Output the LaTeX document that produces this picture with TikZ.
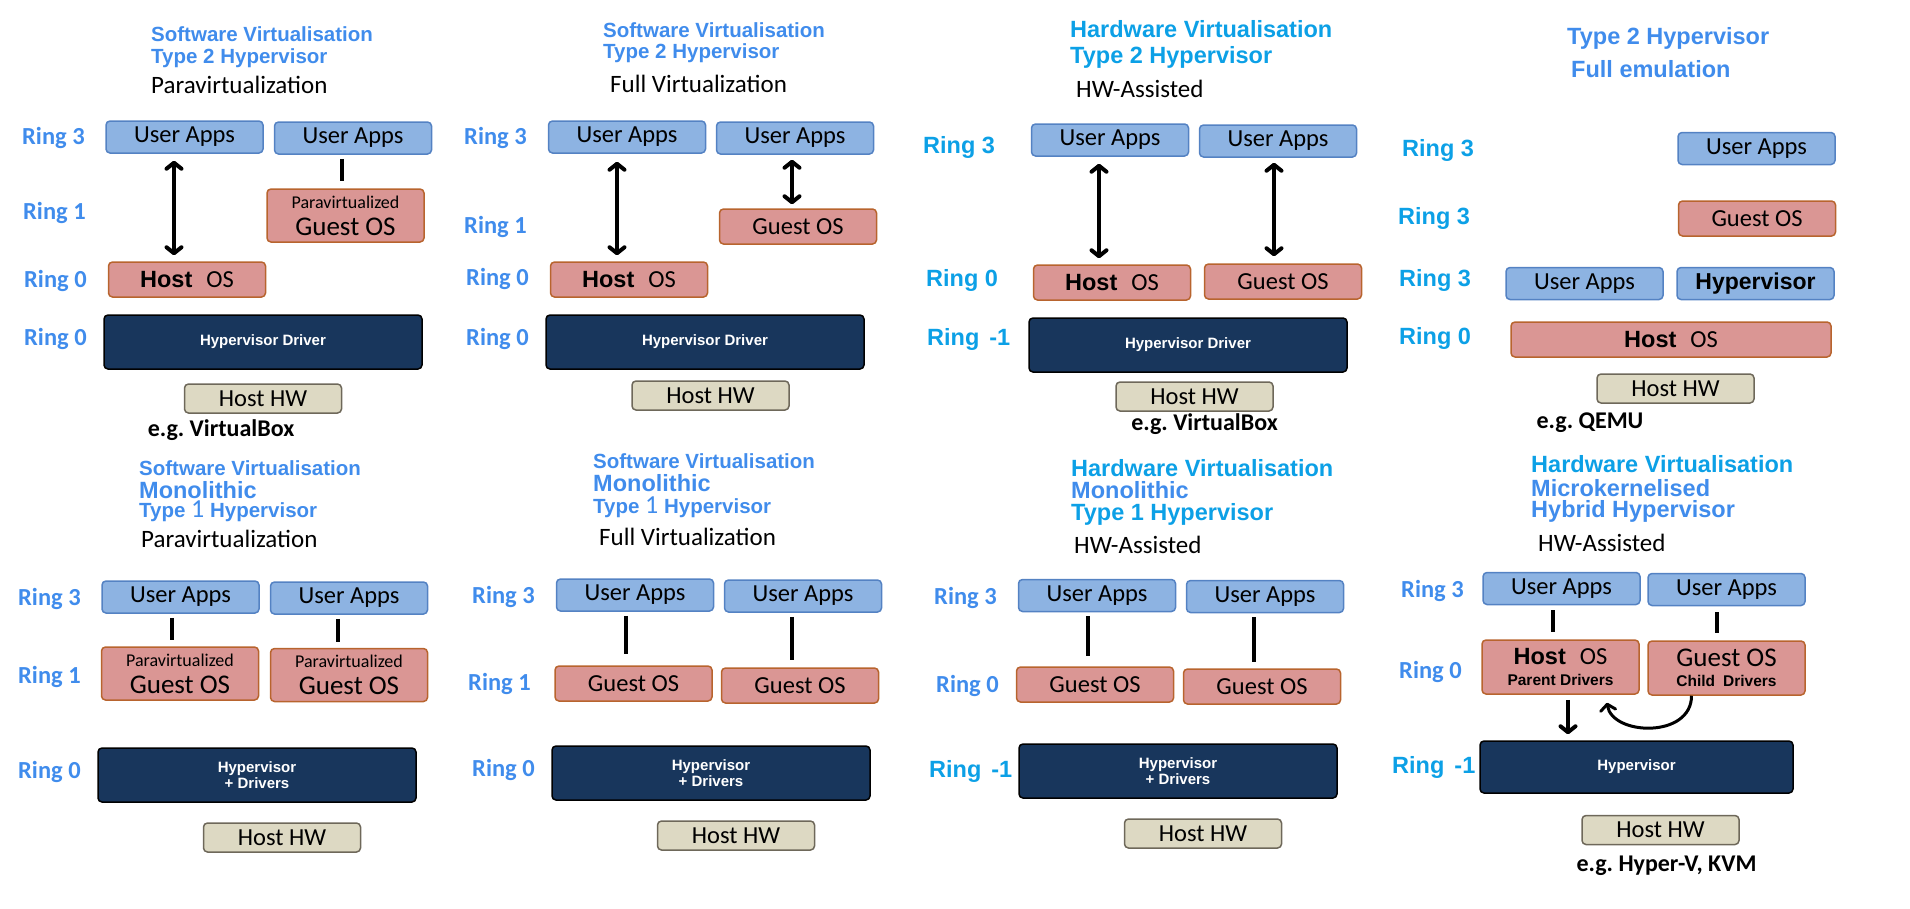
\documentclass[tikz,border=0pt]{standalone}
\usepackage{fontspec}
\setmainfont{Carlito}
\newfontfamily\arialf{Liberation Sans}
\usetikzlibrary{arrows.meta}
\definecolor{swblue}{RGB}{64,140,236}
\definecolor{hwblue}{RGB}{12,160,230}
\definecolor{appfill}{RGB}{141,179,226}
\definecolor{appdraw}{RGB}{84,130,195}
\definecolor{osfill}{RGB}{218,150,148}
\definecolor{osdraw}{RGB}{184,100,46}
\definecolor{hypfill}{RGB}{24,54,92}
\definecolor{hwfill}{RGB}{221,217,195}
\definecolor{hwdraw}{RGB}{110,104,90}
\tikzset{
  barb/.tip     = {Straight Barb[length=6pt,width=15pt,line cap=round,line join=round]},
  ring/.style   = {anchor=west, inner sep=0pt, text=swblue,
                   font=\bfseries\fontsize{24.5}{26}\selectfont},
  ringhw/.style = {anchor=west, inner sep=0pt, text=hwblue,
                   font=\arialf\bfseries\fontsize{23.5}{26}\selectfont},
  ttl/.style    = {anchor=west, inner sep=0pt, text=swblue,
                   font=\arialf\bfseries\fontsize{20.5}{22}\selectfont},
  ttlbig/.style = {ttl, font=\arialf\bfseries\fontsize{23.5}{25}\selectfont},
  ttlhw/.style  = {ttlbig, text=hwblue},
  sub/.style    = {anchor=west, inner sep=0pt, font=\fontsize{25}{26}\selectfont},
  eg/.style     = {inner sep=0pt, font=\bfseries\fontsize{24}{26}\selectfont},
  box/.style    = {rounded corners=4pt, line width=1.5pt, inner sep=0pt,
                   minimum width=157pt, align=center, font=\fontsize{24.5}{26}\selectfont},
  apps/.style   = {box, draw=appdraw, fill=appfill, minimum height=32pt},
  osbox/.style  = {box, draw=osdraw, fill=osfill, minimum height=35pt},
  osdbl/.style  = {osbox, minimum height=53pt},
  hyp/.style    = {box, draw=black, fill=hypfill, minimum width=318pt,
                   minimum height=54pt, text=white,
                   font=\arialf\bfseries\fontsize{15}{16}\selectfont},
  hostw/.style  = {box, draw=hwdraw, fill=hwfill, minimum height=29pt},
  link/.style   = {line width=4pt},
  updown/.style = {barb-barb, line width=4pt},
}
\newcommand{\hostos}{{\arialf\bfseries\fontsize{23.5}{26}\selectfont Host}\hspace{14pt}OS}
\newcommand{\pv}{{\fontsize{18}{20}\selectfont Paravirtualized}}
\newcommand{\bigos}{{\fontsize{27}{28}\selectfont Guest OS}}
\newcommand{\drv}[1]{{\arialf\bfseries\fontsize{15.5}{16}\selectfont #1}}
\newcommand{\one}{{\normalfont\fontsize{26}{26}\selectfont 1}}

\begin{document}
\begin{tikzpicture}[x=1pt, y=-1pt]
  \useasboundingbox (0,0) rectangle (1910,908);

  % software, type 2, paravirtualization
  \node[ttl] (t1a) at (151,34) {Software Virtualisation};
  \node[ttl] (t1b) at (151,58) {Type 2 Hypervisor};
  \node[sub] (t1c) at (151,85) {Paravirtualization};
  \node[ring] (r1a) at (22,138) {Ring 3};
  \node[ring] (r1b) at (23,213) {Ring 1};
  \node[ring] (r1c) at (24,281) {Ring 0};
  \node[ring] (r1d) at (24,339) {Ring 0};
  \node[apps]  (ua1a) at (184.5,137) {User Apps};
  \node[apps]  (ua1b) at (353,138) {User Apps};
  \node[osdbl] (os1b) at (345.5,215.5) {\pv\\[1pt]\bigos};
  \node[osbox] (os1a) at (187,279.5) {\hostos};
  \node[hyp]   (hv1) at (263,342) {Hypervisor Driver};
  \node[hostw] (hw1) at (263,398.5) {Host HW};
  \node[eg]    (eg1) at (221,430) {e.g.\ VirtualBox};
  \draw[updown, shorten <=7pt, shorten >=6pt] ([xshift=-10.5pt]ua1a.south) -- ([xshift=-10.5pt]ua1a.south |- os1a.north);
  \draw[link, shorten <=4pt, shorten >=7pt] ([xshift=-11pt]ua1b.south) -- ([xshift=-11pt]ua1b.south |- os1b.north);

  % software, type 2, full virtualization
  \node[ttl] (t2a) at (603,30) {Software Virtualisation};
  \node[ttl] (t2b) at (603,53) {Type 2 Hypervisor};
  \node[sub] (t2c) at (610,84) {Full Virtualization};
  \node[ring] (r2a) at (464,138) {Ring 3};
  \node[ring] (r2b) at (464,227) {Ring 1};
  \node[ring] (r2c) at (466,279) {Ring 0};
  \node[ring] (r2d) at (466,339) {Ring 0};
  \node[apps]  (ua2a) at (627,137) {User Apps};
  \node[apps]  (ua2b) at (795,138) {User Apps};
  \node[osbox] (os2b) at (798,226.5) {Guest OS};
  \node[osbox] (os2a) at (629,279.5) {\hostos};
  \node[hyp]   (hv2) at (705,342) {Hypervisor Driver};
  \node[hostw] (hw2) at (710.5,395.5) {Host HW};
  \draw[updown, shorten <=8pt, shorten >=6pt] ([xshift=-10pt]ua2a.south) -- ([xshift=-10pt]ua2a.south |- os2a.north);
  \draw[updown, shorten <=5pt, shorten >=4pt] ([xshift=-3pt]ua2b.south) -- ([xshift=-3pt]ua2b.south |- os2b.north);

  % hardware, type 2
  \node[ttlhw] (t3a) at (1070,29) {Hardware Virtualisation};
  \node[ttlhw] (t3b) at (1070,57) {Type 2 Hypervisor};
  \node[sub]   (t3c) at (1076,89) {HW-Assisted};
  \node[ringhw] (r3a) at (923,147) {Ring 3};
  \node[ringhw] (r3b) at (926,280) {Ring 0};
  \node[ringhw] (r3c) at (927,339) {Ring\hspace{10pt}-1};
  \node[apps]  (ua3a) at (1110,140) {User Apps};
  \node[apps]  (ua3b) at (1278,141) {User Apps};
  \node[osbox] (os3a) at (1112,282.5) {\hostos};
  \node[osbox] (os3b) at (1283,281.5) {Guest OS};
  \node[hyp]   (hv3) at (1188,345) {Hypervisor Driver};
  \node[hostw] (hw3) at (1194.5,396.5) {Host HW};
  \node[eg]    (eg3) at (1204.5,424) {e.g.\ VirtualBox};
  \draw[updown, shorten <=7pt, shorten >=6pt] ([xshift=-11pt]ua3a.south) -- ([xshift=-11pt]ua3a.south |- os3a.north);
  \draw[updown, shorten <=5pt, shorten >=7pt] ([xshift=-4pt]ua3b.south) -- ([xshift=-4pt]ua3b.south |- os3b.north);

  % full emulation
  \node[ttlbig] (t4a) at (1567,38) {Type 2 Hypervisor};
  \node[ttlbig] (t4b) at (1571,69) {Full emulation};
  \node[ringhw] (r4a) at (1402,150) {Ring 3};
  \node[ringhw] (r4b) at (1398,218) {Ring 3};
  \node[ringhw] (r4c) at (1399,280) {Ring 3};
  \node[ringhw] (r4d) at (1399,338) {Ring 0};
  \node[apps]  (ua4a) at (1756.5,148.5) {User Apps};
  \node[osbox] (os4a) at (1757,218.5) {Guest OS};
  \node[apps]  (ua4b) at (1584.5,283.5) {User Apps};
  \node[apps, font=\arialf\bfseries\fontsize{23}{26}\selectfont] (hp4) at (1755.5,283.5) {Hypervisor};
  \node[osbox, minimum width=320pt] (os4b) at (1671,339.5) {\hostos};
  \node[hostw] (hw4) at (1675.5,388.5) {Host HW};
  \node[eg]    (eg4) at (1590,423) {e.g.\ QEMU};

  % software, type 1, paravirtualization
  \node[ttl]    (t5a) at (139,468) {Software Virtualisation};
  \node[ttlbig] (t5b) at (139,490) {Monolithic};
  \node[ttl]    (t5c) at (139,511) {Type \one\ Hypervisor};
  \node[sub]    (t5d) at (141,539) {Paravirtualization};
  \node[ring] (r5a) at (18,599) {Ring 3};
  \node[ring] (r5b) at (18,677) {Ring 1};
  \node[ring] (r5c) at (18,772) {Ring 0};
  \node[apps]  (ua5a) at (180.5,597) {User Apps};
  \node[apps]  (ua5b) at (349,598) {User Apps};
  \node[osdbl] (os5a) at (180,673.5) {\pv\\[1pt]\bigos};
  \node[osdbl] (os5b) at (349,675) {\pv\\[1pt]\bigos};
  \node[hyp]   (hv5) at (257,775) {Hypervisor\\+ Drivers};
  \node[hostw] (hw5) at (282,837.5) {Host HW};
  \draw[link, shorten <=4pt, shorten >=6pt] ([xshift=-8.5pt]ua5a.south) -- ([xshift=-8.5pt]ua5a.south |- os5a.north);
  \draw[link, shorten <=4pt, shorten >=6pt] ([xshift=-11pt]ua5b.south) -- ([xshift=-11pt]ua5b.south |- os5b.north);

  % software, type 1, full virtualization
  \node[ttl]    (t6a) at (593,461) {Software Virtualisation};
  \node[ttlbig] (t6b) at (593,483) {Monolithic};
  \node[ttl]    (t6c) at (593,507) {Type \one\ Hypervisor};
  \node[sub]    (t6d) at (599,537) {Full Virtualization};
  \node[ring] (r6a) at (472,597) {Ring 3};
  \node[ring] (r6b) at (468,684) {Ring 1};
  \node[ring] (r6c) at (472,770) {Ring 0};
  \node[apps]  (ua6a) at (635,595) {User Apps};
  \node[apps]  (ua6b) at (803,596) {User Apps};
  \node[osbox] (os6a) at (633.5,683.5) {Guest OS};
  \node[osbox] (os6b) at (800,685.5) {Guest OS};
  \node[hyp]   (hv6) at (711,773) {Hypervisor\\+ Drivers};
  \node[hostw] (hw6) at (736,835.5) {Host HW};
  \draw[link, shorten <=4pt, shorten >=11pt] ([xshift=-9pt]ua6a.south) -- ([xshift=-9pt]ua6a.south |- os6a.north);
  \draw[link, shorten <=4pt, shorten >=7pt] ([xshift=-11pt]ua6b.south) -- ([xshift=-11pt]ua6b.south |- os6b.north);

  % hardware, type 1
  \node[ttlhw]  (t7a) at (1071,468) {Hardware Virtualisation};
  \node[ttlbig] (t7b) at (1071,490) {Monolithic};
  \node[ttlhw]  (t7c) at (1071,514) {Type 1 Hypervisor};
  \node[sub]    (t7d) at (1074,545) {HW-Assisted};
  \node[ring]   (r7a) at (934,598) {Ring 3};
  \node[ring]   (r7b) at (936,686) {Ring 0};
  \node[ringhw] (r7c) at (929,771) {Ring\hspace{10pt}-1};
  \node[apps]  (ua7a) at (1097,595.5) {User Apps};
  \node[apps]  (ua7b) at (1265,596.5) {User Apps};
  \node[osbox] (os7a) at (1095,684.5) {Guest OS};
  \node[osbox] (os7b) at (1262,686.5) {Guest OS};
  \node[hyp]   (hv7) at (1178,771) {Hypervisor\\+ Drivers};
  \node[hostw] (hw7) at (1203,833.5) {Host HW};
  \draw[link, shorten <=4pt, shorten >=10pt] ([xshift=-9pt]ua7a.south) -- ([xshift=-9pt]ua7a.south |- os7a.north);
  \draw[link, shorten <=4pt, shorten >=6pt] ([xshift=-11pt]ua7b.south) -- ([xshift=-11pt]ua7b.south |- os7b.north);

  % hardware, hybrid
  \node[ttlhw]  (t8a) at (1531,464) {Hardware Virtualisation};
  \node[ttlbig] (t8b) at (1531,488) {Microkernelised};
  \node[ttlbig] (t8c) at (1531,511) {Hybrid Hypervisor};
  \node[sub]    (t8d) at (1538,543) {HW-Assisted};
  \node[ring]   (r8a) at (1401,591) {Ring 3};
  \node[ring]   (r8b) at (1399,672) {Ring 0};
  \node[ringhw] (r8c) at (1392,767) {Ring\hspace{10pt}-1};
  \node[apps]  (ua8a) at (1561.5,588.5) {User Apps};
  \node[apps]  (ua8b) at (1726.5,589.5) {User Apps};
  \node[osbox, minimum height=54pt] (os8a) at (1560.5,667) {\hostos\\[-5pt]\drv{Parent Drivers}};
  \node[osbox, minimum height=54pt] (os8b) at (1726.5,668) {\bigos\\[-6pt]\drv{Child\hspace{8pt}Drivers}};
  \node[hyp, minimum width=313pt, minimum height=52pt] (hv8) at (1636.5,767) {Hypervisor};
  \node[hostw] (hw8) at (1660.5,830) {Host HW};
  \node[eg]    (eg8) at (1666.5,866) {e.g.\ Hyper-V, KVM};
  \draw[link, shorten <=5pt, shorten >=7pt] ([xshift=-8.5pt]ua8a.south) -- ([xshift=-8.5pt]ua8a.south |- os8a.north);
  \draw[link, shorten <=6pt, shorten >=7pt] ([xshift=-9.5pt]ua8b.south) -- ([xshift=-9.5pt]ua8b.south |- os8b.north);
  \draw[link, -barb, shorten <=5pt, shorten >=6pt] ([xshift=7.5pt]os8a.south) -- ([xshift=7.5pt]os8a.south |- hv8.north);
  \draw[line width=3pt, -barb] ([xshift=-35pt]os8b.south) .. controls +(0,43) and +(5,33) .. ([xshift=46.5pt,yshift=-8pt]os8a.south);
\end{tikzpicture}
\end{document}
